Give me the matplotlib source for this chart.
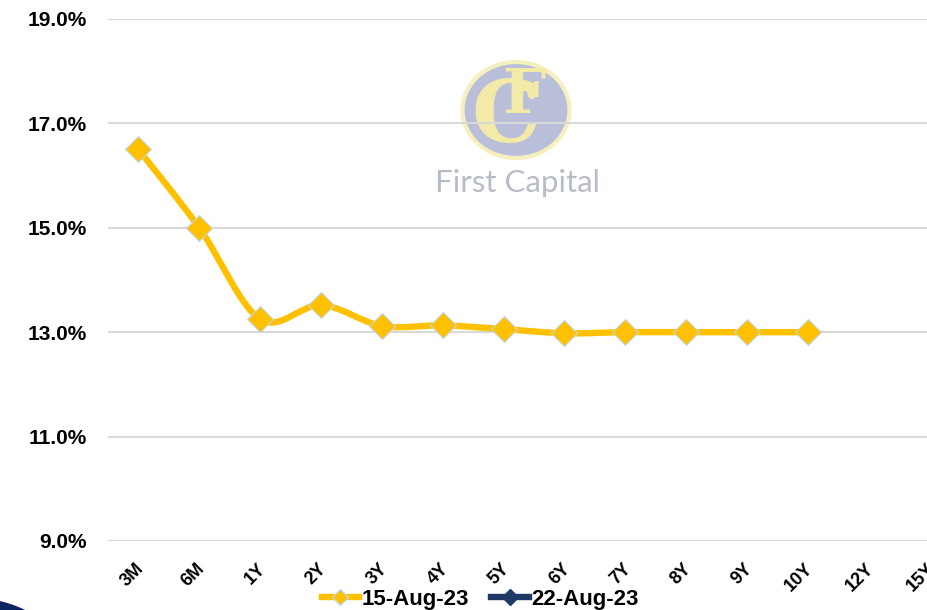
import numpy as np
import matplotlib
matplotlib.use('Agg')
import matplotlib.pyplot as plt
from matplotlib.path import Path
from matplotlib.patches import PathPatch, Ellipse
from matplotlib.lines import Line2D
import matplotlib.transforms as mtransforms

# ---- data ----
tenors = ['3M', '6M', '1Y', '2Y', '3Y', '4Y', '5Y', '6Y', '7Y', '8Y', '9Y', '10Y', '12Y', '15Y']
yield_15aug = [16.50, 15.00, 13.25, 13.52, 13.12, 13.13, 13.06, 12.98, 13.00, 13.00, 13.00, 13.00]
yield_22aug = []   # no points visible for this series
series_labels = ['15-Aug-23', '22-Aug-23']
yticks = [9.0, 11.0, 13.0, 15.0, 17.0, 19.0]

GOLD = '#FFC000'
NAVY = '#1F3864'
EDGE = '#BDD7EE'

plt.rcParams['font.family'] = ['Liberation Sans', 'DejaVu Sans']

fig = plt.figure(figsize=(9.28, 6.10), dpi=100)

# watermark logo + corner decoration (behind the chart)
ax_logo = fig.add_axes([0, 0, 1, 1])
ax_logo.set_xlim(0, 928)
ax_logo.set_ylim(610, 0)
ax_logo.axis('off')
ax_logo.add_patch(Ellipse((516, 110), 107, 96, facecolor='#B9BFD9', edgecolor='#F6EFBE', lw=3))
ax_logo.text(506, 118, 'C', fontsize=62, fontweight='bold', color='#F3EAA8',
             ha='center', va='center', family='DejaVu Serif')
ax_logo.text(524, 96, 'F', fontsize=44, fontweight='bold', color='#F3EAA8',
             ha='center', va='center', family='DejaVu Serif')
ax_logo.text(517, 183, 'First Capital', fontsize=22.5, color='#B7BCC8',
             ha='center', va='center', family='Lato')
ax_logo.add_patch(Ellipse((-40, 640), 180, 87, facecolor='#0B2461', edgecolor='none',
                          clip_on=False))

ax = fig.add_axes([108 / 928, 1 - 541 / 610, 852 / 928, 522 / 610])
ax.patch.set_visible(False)

x = np.arange(len(tenors))
ax.set_xlim(-0.5, len(tenors) - 0.5)
ax.set_ylim(9, 19)

# smoothed line (Excel style catmull-rom -> bezier)
def smooth_path(xs, ys):
    pts = np.column_stack([xs, ys]).astype(float)
    n = len(pts)
    verts = [pts[0]]
    codes = [Path.MOVETO]
    for i in range(n - 1):
        p0 = pts[i - 1] if i > 0 else pts[i]
        p1 = pts[i]
        p2 = pts[i + 1]
        p3 = pts[i + 2] if i + 2 < n else pts[i + 1]
        c1 = p1 + (p2 - p0) / 6
        c2 = p2 - (p3 - p1) / 6
        verts += [c1, c2, p2]
        codes += [Path.CURVE4] * 3
    return Path(verts, codes)

xs = x[:len(yield_15aug)]
ax.add_patch(PathPatch(smooth_path(xs, yield_15aug), fill=False, edgecolor=GOLD,
                       lw=4.6, capstyle='round', joinstyle='round', zorder=3))
ax.plot(xs, yield_15aug, ls='none', marker='D', ms=13.2, mfc=GOLD, mec=EDGE,
        mew=0.8, zorder=4)
ax.plot(x[:len(yield_22aug)], yield_22aug, color=NAVY)

# grid / axes
ax.set_yticks(yticks)
ax.set_yticklabels([f'{v:.1f}%' for v in yticks], fontsize=15, fontweight='bold')
ax.yaxis.grid(True, color='#D9D9D9', lw=1.5)
ax.set_axisbelow(True)
for s in ax.spines.values():
    s.set_visible(False)
ax.tick_params(axis='y', length=0, pad=15)
ax.tick_params(axis='x', length=0, pad=18)
ax.set_xticks(x)
ax.set_xticklabels(tenors, fontsize=13, fontweight='bold', rotation=45,
                   ha='right', va='center', rotation_mode='anchor')
offset = mtransforms.ScaledTranslation(3 / 100, 0, fig.dpi_scale_trans)
for lab in ax.get_xticklabels():
    lab.set_transform(lab.get_transform() + offset)

# legend
handles = [Line2D([], [], color=GOLD, lw=4.6, marker='D', ms=8, mfc=GOLD, mec=EDGE),
           Line2D([], [], color=NAVY, lw=4.6, marker='D', ms=8, mfc=NAVY, mec=NAVY)]
fig.legend(handles, series_labels, loc='center', bbox_to_anchor=(480 / 928, 1 - 599 / 610),
           ncol=2, frameon=False, handlelength=1.7, handletextpad=0.1, columnspacing=1.0,
           prop={'size': 16, 'weight': 'bold'})

fig.savefig('out.png', dpi=100)
